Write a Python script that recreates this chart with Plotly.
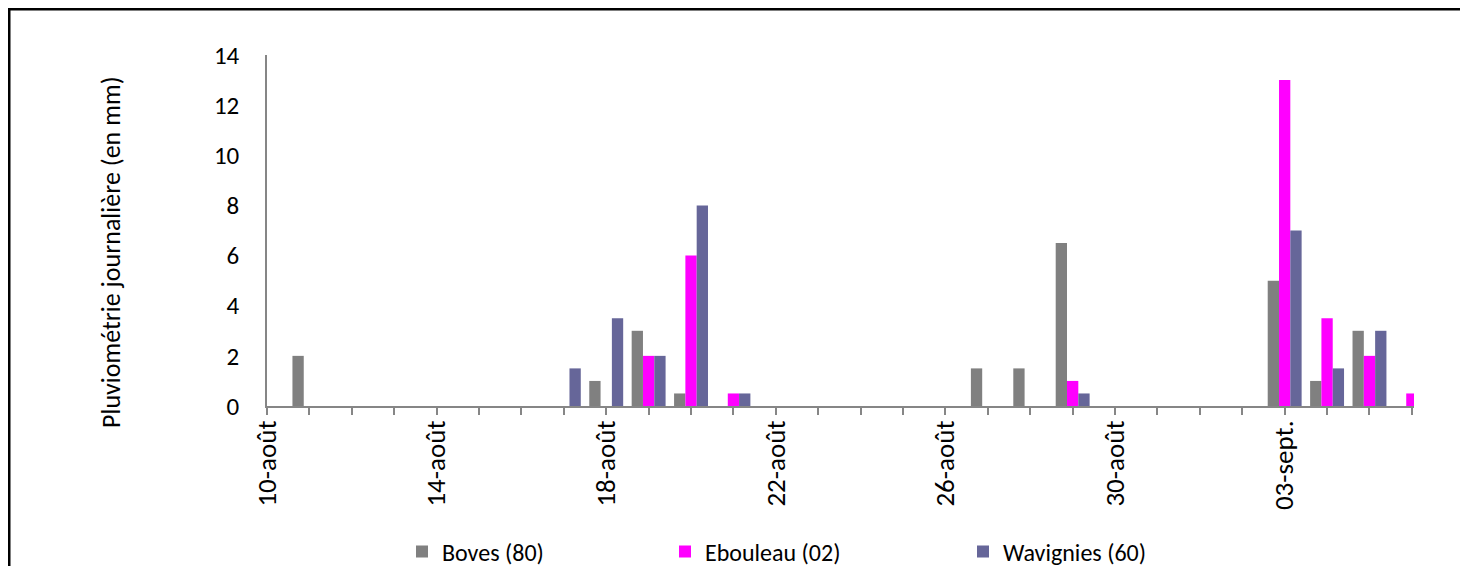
import plotly.graph_objects as go

# --- data -------------------------------------------------------------
days = ["10-août", "11-août", "12-août", "13-août", "14-août", "15-août", "16-août",
        "17-août", "18-août", "19-août", "20-août", "21-août", "22-août", "23-août",
        "24-août", "25-août", "26-août", "27-août", "28-août", "29-août", "30-août",
        "31-août", "01-sept.", "02-sept.", "03-sept.", "04-sept.", "05-sept.", "06-sept."]
labelled_days = ["10-août", "14-août", "18-août", "22-août", "26-août", "30-août", "03-sept."]

boves = [0, 2, 0, 0, 0, 0, 0, 0, 1, 3, 0.5, 0, 0, 0, 0, 0, 0, 1.5, 1.5, 6.5, 0, 0, 0, 0, 5, 1, 3, 0]
ebouleau = [0, 0, 0, 0, 0, 0, 0, 0, 0, 2, 6, 0.5, 0, 0, 0, 0, 0, 0, 0, 1, 0, 0, 0, 0, 13, 3.5, 2, 0.5]
wavignies = [0, 0, 0, 0, 0, 0, 0, 1.5, 3.5, 2, 8, 0.5, 0, 0, 0, 0, 0, 0, 0, 0.5, 0, 0, 0, 0, 7, 1.5, 3, 0]

series_names = ["Boves (80)", "Ebouleau (02)", "Wavignies (60)"]
y_ticks = [0, 2, 4, 6, 8, 10, 12, 14]
y_title = "Pluviométrie journalière (en mm)"

# --- layout geometry (figure pixels; page has an 8px body margin) -----
OFF = 8
W, H = 1468 - OFF, 566 - OFF
L, T = 267 - OFF, 55 - OFF
PLOT_BOTTOM, PLOT_RIGHT = 406 - OFF, 1414 - OFF
R, B = W - PLOT_RIGHT, H - PLOT_BOTTOM
PW, PH = W - L - R, H - T - B


def px_x(page_x):
    return (page_x - OFF - L) / PW


def px_y(page_y):
    return (H - B - (page_y - OFF)) / PH


FONT = "Calibri, Carlito, Lato, sans-serif"
AXIS_GREY = "#868686"
colors = ["#808080", "#FF00FF", "#666699"]

fig = go.Figure()
for i, (name, vals, col) in enumerate(zip(series_names, [boves, ebouleau, wavignies], colors)):
    fig.add_trace(go.Bar(
        x=days, y=vals, name=name,
        marker=dict(color=col, line=dict(width=0)),
        legend="legend" if i == 0 else f"legend{i + 1}",
    ))

legend_common = dict(
    orientation="h", xanchor="left", yanchor="middle", y=px_y(552),
    font=dict(family=FONT, size=24, color="black"), bgcolor="rgba(0,0,0,0)",
    borderwidth=0,
)

fig.update_layout(
    width=W, height=H,
    margin=dict(l=L, r=R, t=T, b=B, pad=0, autoexpand=False),
    paper_bgcolor="white", plot_bgcolor="white",
    font=dict(family=FONT, size=24, color="black"),
    barmode="group", bargap=0.2, bargroupgap=0,
    showlegend=True,
    legend=dict(**legend_common, x=px_x(402)),
    legend2=dict(**legend_common, x=px_x(665)),
    legend3=dict(**legend_common, x=px_x(963)),
    xaxis=dict(
        type="category", categoryorder="array", categoryarray=days,
        range=[0, len(days) - 1 + 0.05],
        tickmode="array", tickvals=days,
        ticktext=[d if d in labelled_days else "" for d in days],
        tickangle=-90, ticks="outside", ticklen=7, tickwidth=1.5, tickcolor=AXIS_GREY,
        showline=True, linecolor=AXIS_GREY, linewidth=1.5,
        showgrid=False, zeroline=False,
        tickfont=dict(family=FONT, size=27, color="black"),
        ticklabelstandoff=-5,
    ),
    yaxis=dict(
        range=[0, 14], tickmode="array", tickvals=y_ticks,
        ticks="", showline=True, linecolor=AXIS_GREY, linewidth=1.5,
        showgrid=False, zeroline=False,
        tickfont=dict(family=FONT, size=25, color="black"),
        ticklabelstandoff=21,
    ),
    annotations=[dict(
        text=y_title, textangle=-90, showarrow=False,
        xref="paper", yref="paper", x=px_x(111), y=px_y(252),
        xanchor="center", yanchor="middle",
        font=dict(family=FONT, size=26, color="black"),
    )],
    shapes=[
        dict(type="line", xref="paper", yref="paper",
             x0=px_x(9), x1=px_x(9), y0=px_y(9), y1=px_y(620),
             line=dict(color="black", width=3)),
        dict(type="line", xref="paper", yref="paper",
             x0=px_x(8), x1=px_x(1500), y0=px_y(9), y1=px_y(9),
             line=dict(color="black", width=3)),
    ],
)

fig.write_html("out.html")
